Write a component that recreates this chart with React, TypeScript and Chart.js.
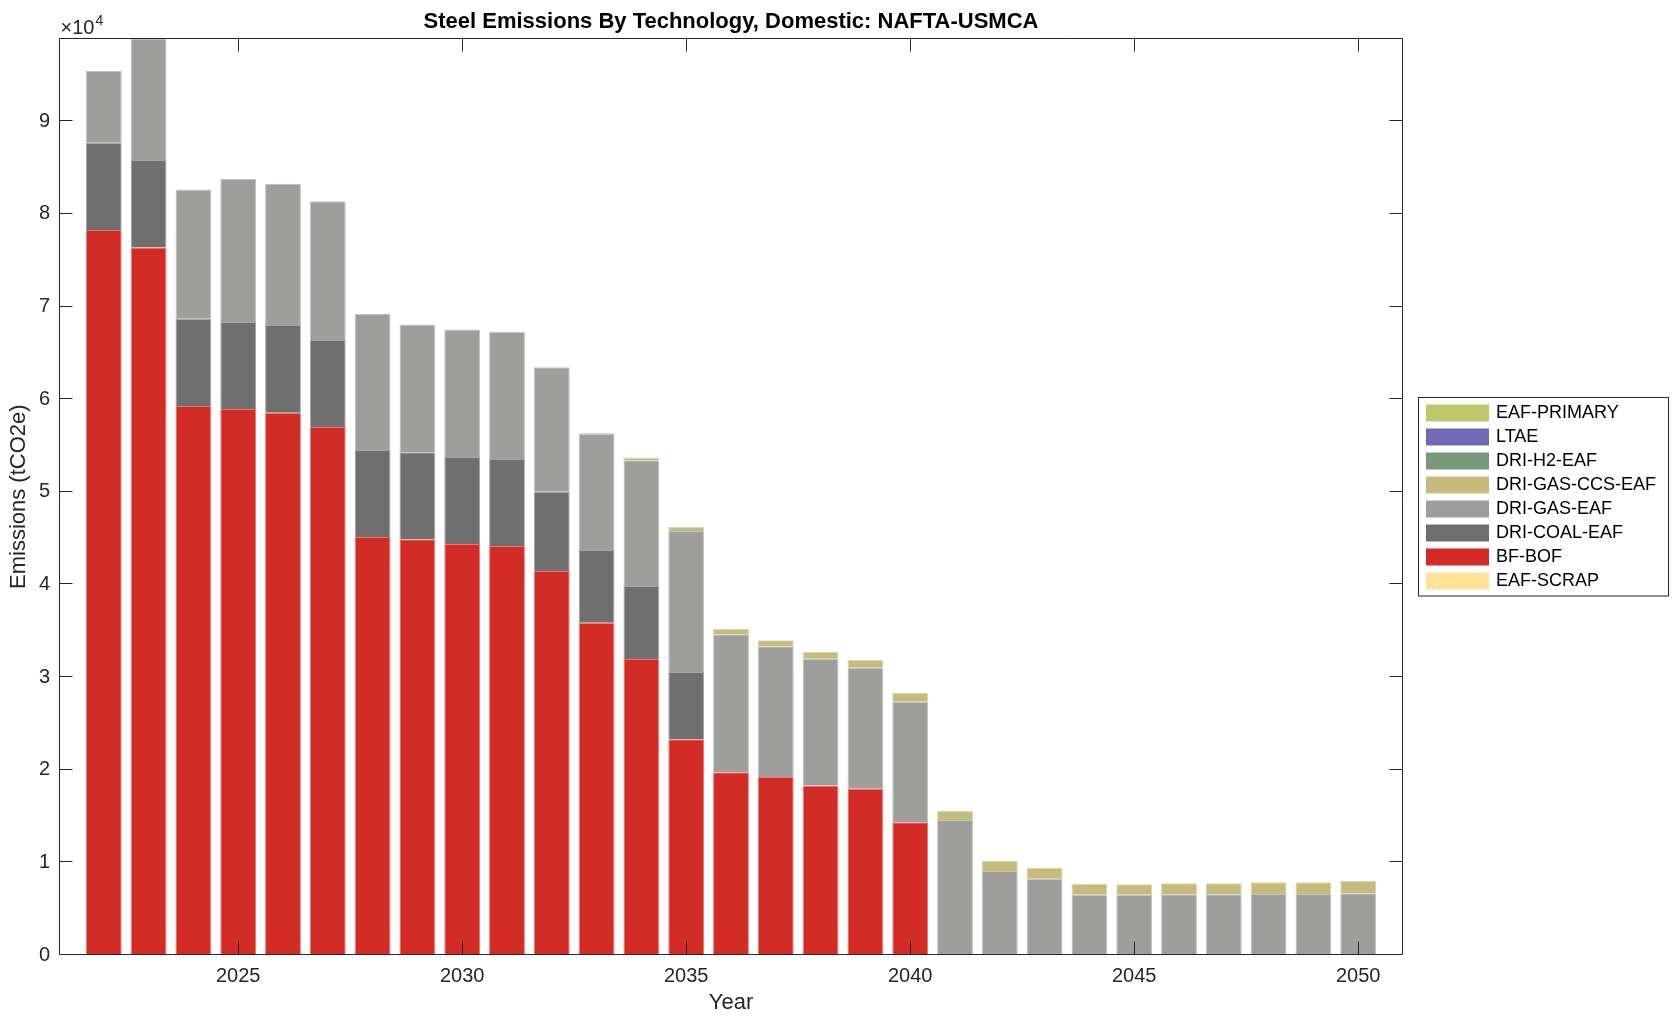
import React, { useEffect, useRef } from 'react';
import { Chart, registerables } from 'chart.js';

Chart.register(...registerables);

const years = [2022, 2023, 2024, 2025, 2026, 2027, 2028, 2029, 2030, 2031, 2032, 2033, 2034, 2035, 2036, 2037, 2038, 2039, 2040, 2041, 2042, 2043, 2044, 2045, 2046, 2047, 2048, 2049, 2050];

const eafScrap = [0, 0, 0, 0, 0, 0, 0, 0, 0, 0, 0, 0, 0, 0, 0, 0, 0, 0, 0, 0, 0, 0, 0, 0, 0, 0, 0, 0, 0];
const bfBof = [78250, 76380, 59260, 58930, 58530, 56990, 45120, 44870, 44360, 44150, 41450, 35870, 31950, 23280, 19720, 19210, 18300, 17950, 14320, 0, 0, 0, 0, 0, 0, 0, 0, 0, 0];
const driCoal = [9420, 9430, 9420, 9390, 9470, 9390, 9390, 9390, 9390, 9380, 8560, 7840, 7880, 7270, 0, 0, 0, 0, 0, 0, 0, 0, 0, 0, 0, 0, 0, 0, 0];
const driGas = [7740, 13130, 13960, 15440, 15250, 14970, 14680, 13810, 13780, 13750, 13420, 12560, 13570, 15210, 14890, 14110, 13680, 13060, 13020, 14570, 9070, 8240, 6510, 6510, 6550, 6550, 6580, 6580, 6660];
const driGasCcs = [0, 0, 0, 0, 0, 0, 0, 0, 0, 0, 0, 100, 300, 430, 610, 650, 720, 830, 940, 1000, 1110, 1180, 1190, 1120, 1190, 1190, 1270, 1280, 1330];
const driH2 = [0, 0, 0, 0, 0, 0, 0, 0, 0, 0, 0, 0, 0, 0, 0, 0, 0, 0, 0, 0, 0, 0, 0, 0, 0, 0, 0, 0, 0];
const ltae = [0, 0, 0, 0, 0, 0, 0, 0, 0, 0, 0, 0, 0, 0, 0, 0, 0, 0, 0, 0, 0, 0, 0, 0, 0, 0, 0, 0, 0];
const eafPrimary = [0, 0, 0, 0, 0, 0, 0, 0, 0, 0, 0, 0, 0, 0, 0, 0, 0, 0, 0, 0, 0, 0, 0, 0, 0, 0, 0, 0, 0];

const seriesNames = ['EAF-SCRAP', 'BF-BOF', 'DRI-COAL-EAF', 'DRI-GAS-EAF', 'DRI-GAS-CCS-EAF', 'DRI-H2-EAF', 'LTAE', 'EAF-PRIMARY'];
const seriesValues = [eafScrap, bfBof, driCoal, driGas, driGasCcs, driH2, ltae, eafPrimary];
const seriesColors = ['#fee396', '#d32b25', '#6f6f6f', '#9e9e9c', '#c5bb7b', '#76997b', '#7369b8', '#bfc76a'];

const xTicks = [2025, 2030, 2035, 2040, 2045, 2050];
const yTicks = [0, 10000, 20000, 30000, 40000, 50000, 60000, 70000, 80000, 90000];
const yMax = 98940;

const FONT = 'Helvetica, "Liberation Sans", Arial, sans-serif';
const AXIS = '#262626';

const framePlugin = {
  id: 'matlabFrame',
  afterDraw(chart: any) {
    const { ctx, chartArea, scales } = chart;
    const x = scales.x;
    const y = scales.y;
    const L = Math.round(chartArea.left) + 0.5;
    const R = Math.round(chartArea.right) - 0.5;
    const T = Math.round(chartArea.top) + 0.5;
    const B = Math.round(chartArea.bottom) - 0.5;
    ctx.save();
    ctx.strokeStyle = AXIS;
    ctx.lineWidth = 1;
    ctx.beginPath();
    for (const v of yTicks) {
      const py = Math.max(T, Math.min(B, Math.round(y.getPixelForValue(v)) - 0.5));
      ctx.moveTo(L, py);
      ctx.lineTo(L + 13, py);
      ctx.moveTo(R, py);
      ctx.lineTo(R - 13, py);
    }
    for (const v of xTicks) {
      const px = Math.round(x.getPixelForValue(v)) + 0.5;
      ctx.moveTo(px, B);
      ctx.lineTo(px, B - 13);
      ctx.moveTo(px, T);
      ctx.lineTo(px, T + 13);
    }
    ctx.moveTo(L, T);
    ctx.lineTo(R, T);
    ctx.lineTo(R, B);
    ctx.lineTo(L, B);
    ctx.closePath();
    ctx.stroke();

    // exponent label
    ctx.fillStyle = AXIS;
    ctx.textBaseline = 'alphabetic';
    ctx.textAlign = 'left';
    ctx.font = `20px ${FONT}`;
    ctx.fillText('\u00d710', L + 1, T - 5);
    const w = ctx.measureText('\u00d710').width;
    ctx.font = `14px ${FONT}`;
    ctx.fillText('4', L + 2 + w, T - 14);

    // legend
    const lx = 1418.5;
    const ly = 397.5;
    const lw = 250;
    const lh = 198.5;
    ctx.fillStyle = '#ffffff';
    ctx.fillRect(lx, ly, lw, lh);
    ctx.strokeStyle = AXIS;
    ctx.strokeRect(lx, ly, lw, lh);
    ctx.font = `18px ${FONT}`;
    ctx.textBaseline = 'middle';
    const ds = chart.data.datasets;
    for (let i = 0; i < ds.length; i++) {
      const d = ds[ds.length - 1 - i];
      const sy = 404.5 + 24 * i;
      ctx.fillStyle = d.backgroundColor;
      ctx.fillRect(1426, sy, 63, 17);
      ctx.fillStyle = '#000000';
      ctx.fillText(d.label, 1496, sy + 9);
    }
    ctx.restore();
  },
};

export default function App() {
  const canvasRef = useRef<HTMLCanvasElement | null>(null);

  useEffect(() => {
    if (!canvasRef.current) return;
    const chart = new Chart(canvasRef.current, {
      type: 'bar',
      data: {
        labels: years,
        datasets: seriesNames.map((name, i) => ({
          label: name,
          data: seriesValues[i],
          backgroundColor: seriesColors[i],
          borderColor: seriesColors[i] + 'a0',
          borderWidth: (c: any) => (c.raw ? 1 : 0),
          borderSkipped: 'start',
          barPercentage: 1.0,
          categoryPercentage: 0.8,
        })),
      },
      options: {
        animation: false,
        responsive: true,
        maintainAspectRatio: false,
        devicePixelRatio: 1,
        layout: { padding: { left: 0, right: 276, top: 0, bottom: 0 } },
        plugins: {
          legend: { display: false },
          tooltip: { enabled: false },
          title: {
            display: true,
            text: 'Steel Emissions By Technology, Domestic: NAFTA-USMCA',
            color: '#000000',
            fullSize: false,
            font: { family: FONT, size: 22, weight: 'bold', lineHeight: 1.2 },
            padding: { top: 9, bottom: 3 },
          },
        },
        scales: {
          x: {
            type: 'linear',
            stacked: true,
            offset: false,
            bounds: 'ticks',
            min: 2021,
            max: 2051,
            afterBuildTicks: (s: any) => {
              s.ticks = xTicks.map((v) => ({ value: v }));
            },
            afterDataLimits: (s: any) => {
              s.min = 2021;
              s.max = 2051;
            },
            afterFit: (s: any) => {
              s.height = 68;
            },
            grid: { display: false, drawTicks: false, offset: false },
            border: { display: false },
            ticks: {
              color: AXIS,
              padding: 9,
              maxRotation: 0,
              autoSkip: false,
              font: { family: FONT, size: 20 },
              callback: (v: any) => String(v),
            },
            title: {
              display: true,
              text: 'Year',
              color: AXIS,
              font: { family: FONT, size: 22, lineHeight: 1.2 },
              padding: { top: 0, bottom: 7 },
            },
          },
          y: {
            type: 'linear',
            stacked: true,
            min: 0,
            max: yMax,
            afterBuildTicks: (s: any) => {
              s.ticks = yTicks.map((v) => ({ value: v }));
            },
            afterFit: (s: any) => {
              s.width = 59;
            },
            grid: { display: false, drawTicks: false },
            border: { display: false },
            ticks: {
              color: AXIS,
              padding: 9,
              autoSkip: false,
              font: { family: FONT, size: 20 },
              callback: (v: any) => String(v / 10000),
            },
            title: {
              display: true,
              text: 'Emissions (tCO2e)',
              color: AXIS,
              font: { family: FONT, size: 22, lineHeight: 1.2 },
              padding: { top: 6, bottom: 0 },
            },
          },
        },
      },
      plugins: [framePlugin],
    } as any);
    return () => chart.destroy();
  }, []);

  return (
    <div style={{ position: 'fixed', left: 0, top: 0, width: 1679, height: 1023, background: '#ffffff' }}>
      <canvas ref={canvasRef} />
    </div>
  );
}
